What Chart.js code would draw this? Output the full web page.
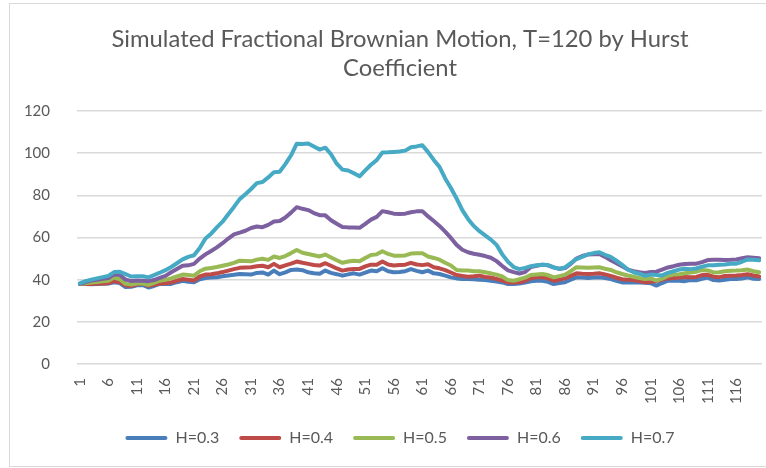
<!DOCTYPE html>
<html>
<head>
<meta charset="utf-8">
<script src="https://cdn.jsdelivr.net/npm/chart.js@4/dist/chart.umd.min.js"></script>
<style>
  html, body { margin: 0; padding: 0; background: #fff; }
  #wrap { position: relative; width: 766px; height: 468px; overflow: hidden; }
  #frame { position: absolute; left: 9px; top: 3px; width: 800px; height: 462px; border: 1px solid #d9d9d9; }
  canvas { position: absolute; left: 0; top: 0; }
</style>
</head>
<body>
<div id="wrap">
  <div id="frame"></div>
  <!-- canvas runs past the right edge, like the cropped Excel chart -->
  <canvas id="fbm" width="800" height="468"></canvas>
</div>
<script>
// time steps 1..120
const periods = Array.from({ length: 120 }, (_, i) => i + 1);

const seriesNames = ['H=0.3', 'H=0.4', 'H=0.5', 'H=0.6', 'H=0.7'];
const seriesColors = ['#4a7ebb', '#be4b48', '#98b954', '#7d60a0', '#46aac5'];
const yTicks = [0, 20, 40, 60, 80, 100, 120];

const h03 = [
  38.0, 37.9, 37.8, 37.9, 38.1, 38.2, 38.8, 38.4, 36.5, 36.6,
  37.3, 37.5, 36.3, 37.0, 38.0, 38.0, 38.0, 38.8, 39.5, 39.0,
  38.8, 40.2, 40.8, 41.0, 41.1, 41.6, 42.0, 42.3, 42.7, 42.6,
  42.4, 43.2, 43.4, 42.4, 44.3, 42.6, 43.5, 44.6, 44.8, 44.5,
  43.5, 43.0, 42.8, 44.3, 43.2, 42.6, 41.9, 42.5, 43.0, 42.4,
  43.3, 44.3, 44.0, 45.4, 44.0, 43.5, 43.6, 44.0, 45.0, 44.2,
  43.5, 44.3, 43.0, 42.7, 41.9, 41.1, 40.6, 40.3, 40.3, 40.2,
  40.0, 39.8, 39.5, 39.1, 38.7, 37.9, 38.0, 38.2, 38.6, 39.2,
  39.5, 39.5, 39.0, 37.9, 38.4, 38.8, 40.0, 41.1, 41.0, 40.8,
  41.0, 41.1, 40.8, 40.3, 39.5, 38.7, 38.7, 38.7, 38.6, 38.5,
  38.3, 37.2, 38.4, 39.5, 39.5, 39.5, 39.3, 39.8, 39.7, 40.4,
  41.0, 39.8, 39.6, 40.0, 40.3, 40.3, 40.5, 41.1, 40.4, 40.3
];

const h04 = [
  38.0, 38.0, 38.0, 38.1, 38.2, 38.3, 39.4, 38.8, 37.3, 37.0,
  37.8, 38.2, 37.1, 37.6, 38.2, 38.3, 38.7, 39.5, 40.3, 40.0,
  39.6, 41.5, 42.4, 42.6, 43.0, 43.6, 44.3, 45.0, 45.6, 45.8,
  45.9, 46.4, 46.6, 45.9, 47.5, 45.9, 46.8, 47.6, 48.6, 48.0,
  47.5, 47.0, 46.7, 47.8, 46.6, 45.3, 44.3, 44.8, 45.1, 45.1,
  46.3, 47.1, 47.1, 48.6, 47.2, 46.7, 46.9, 47.1, 48.0, 47.2,
  46.9, 47.3, 45.9, 45.4, 44.5, 43.4, 42.2, 41.8, 41.4, 41.6,
  41.9, 41.3, 41.0, 40.3, 39.6, 38.7, 38.6, 38.8, 39.5, 40.7,
  41.1, 41.1, 40.6, 39.5, 40.0, 40.6, 41.8, 43.0, 42.8, 42.7,
  42.8, 43.0, 42.5, 41.8, 40.9, 40.2, 40.0, 39.8, 39.4, 38.8,
  39.0, 39.4, 40.0, 40.6, 40.8, 41.0, 41.3, 41.2, 41.3, 42.2,
  42.3, 41.4, 41.2, 41.7, 41.9, 42.0, 42.2, 42.6, 42.0, 41.5
];

const h05 = [
  38.0, 38.3, 38.6, 38.9, 39.2, 39.5, 41.0, 40.2, 38.0, 37.7,
  38.2, 38.2, 37.5, 38.5, 39.5, 39.9, 40.6, 41.5, 42.4, 42.2,
  41.9, 44.0, 45.2, 45.5, 46.0, 46.6, 47.2, 48.0, 49.0, 48.9,
  48.7, 49.5, 49.9, 49.4, 51.0, 50.3, 51.2, 52.6, 54.1, 52.8,
  52.2, 51.6, 51.0, 51.9, 50.5, 49.2, 48.0, 48.6, 49.0, 48.7,
  50.3, 51.7, 52.0, 53.5, 52.2, 51.4, 51.4, 51.5, 52.4, 52.5,
  52.5, 51.0, 50.3, 49.5, 48.0, 46.7, 44.6, 44.3, 44.3, 44.0,
  44.0, 43.5, 43.0, 42.4, 41.5, 39.8, 39.5, 40.2, 41.0, 42.2,
  42.5, 42.7, 42.2, 41.1, 41.7, 42.3, 44.0, 45.9, 45.8, 45.6,
  45.8, 45.9, 45.2, 44.6, 43.5, 42.7, 42.0, 41.4, 40.8, 40.3,
  40.6, 39.6, 40.5, 41.8, 42.4, 42.6, 43.0, 43.4, 43.8, 44.6,
  44.4, 43.4, 43.5, 44.0, 44.2, 44.3, 44.5, 44.8, 44.0, 43.5
];

const h06 = [
  38.0, 38.9, 39.6, 40.0, 40.4, 40.8, 42.5, 42.2, 40.0, 39.4,
  39.6, 39.5, 39.3, 39.8, 40.8, 41.8, 43.5, 45.1, 46.6, 46.8,
  47.5, 50.0, 52.0, 53.6, 55.3, 57.3, 59.5, 61.5, 62.3, 63.2,
  64.5, 65.2, 64.9, 66.0, 67.6, 67.8, 69.5, 71.8, 74.4, 73.6,
  73.0, 71.6, 70.6, 70.5, 68.2, 66.5, 65.0, 64.8, 64.7, 64.6,
  66.5, 68.5, 69.8, 72.5, 72.0, 71.3, 71.2, 71.3, 72.0, 72.4,
  72.5, 70.0, 67.8, 65.5, 62.8, 59.8, 56.5, 54.2, 53.0, 52.3,
  51.8, 51.2, 50.4, 48.8, 46.5, 44.4, 43.6, 42.9, 43.6, 46.0,
  46.6, 47.1, 46.8, 45.8, 45.1, 45.5, 47.5, 50.0, 51.2, 51.9,
  52.0, 52.2, 50.8, 49.2, 47.8, 46.4, 44.8, 44.0, 43.5, 43.2,
  43.6, 43.8, 44.8, 45.8, 46.4, 47.1, 47.4, 47.5, 47.6, 48.3,
  49.3, 49.4, 49.4, 49.3, 49.4, 49.6, 50.2, 50.6, 50.4, 50.2
];

const h07 = [
  38.2, 39.3, 40.0, 40.6, 41.2, 41.8, 43.6, 43.7, 42.6, 41.5,
  41.6, 41.6, 41.1, 42.2, 43.3, 44.5, 46.0, 47.8, 49.6, 50.8,
  51.6, 55.0, 59.5, 61.8, 64.8, 67.5, 71.0, 74.5, 78.2, 80.5,
  83.0, 85.8, 86.3, 88.5, 91.0, 91.2, 94.8, 99.0, 104.5, 104.3,
  104.6, 103.2, 101.7, 102.6, 99.5, 95.0, 92.2, 91.8, 90.5, 89.0,
  91.8, 94.5, 96.7, 100.3, 100.4, 100.6, 100.8, 101.2, 102.8, 103.2,
  103.8, 100.5, 96.8, 93.5, 88.0, 83.5, 78.5, 73.0, 68.8, 65.5,
  63.0, 61.0, 59.0, 56.5, 52.0, 48.5, 46.0, 45.0, 45.6, 46.4,
  46.8, 47.1, 46.9, 45.8, 45.2, 45.8, 47.8, 49.8, 50.8, 52.0,
  52.6, 53.0, 51.8, 50.8, 49.0, 47.0, 44.8, 43.5, 42.8, 41.9,
  42.4, 42.2, 42.0, 43.2, 44.0, 44.8, 45.2, 45.0, 45.3, 46.2,
  46.8, 46.8, 47.1, 47.2, 47.5, 47.6, 48.5, 49.6, 49.4, 49.2
];

const seriesValues = [h03, h04, h05, h06, h07];

const FONT = 'Lato, "Open Sans", sans-serif';
const TEXT = '#595959';

const datasets = seriesNames.map((name, i) => ({
  label: name,
  data: seriesValues[i],
  borderColor: seriesColors[i],
  backgroundColor: seriesColors[i],
  order: seriesNames.length - 1 - i   // later series drawn on top, as in Excel
}));

new Chart(document.getElementById('fbm'), {
  type: 'line',
  data: { labels: periods, datasets },
  options: {
    responsive: false,
    animation: false,
    layout: { padding: { left: 20, right: 20, top: 0, bottom: 12 } },
    elements: {
      point: { radius: 0 },
      line: { borderWidth: 4, tension: 0, borderJoinStyle: 'round', borderCapStyle: 'round' }
    },
    plugins: {
      title: {
        display: true,
        text: ['Simulated Fractional Brownian Motion, T=120 by Hurst', 'Coefficient'],
        color: TEXT,
        font: { family: FONT, size: 23.8, weight: 'normal', lineHeight: 29 / 23.8 },
        padding: { top: 25, bottom: 28 }
      },
      legend: {
        position: 'bottom',
        maxHeight: 47,
        labels: {
          color: TEXT,
          font: { family: FONT, size: 16 },
          boxWidth: 42,
          boxHeight: 4,
          padding: 20,
          generateLabels: (chart) =>
            Chart.defaults.plugins.legend.labels.generateLabels(chart)
              .map(l => ({ ...l, lineWidth: 0, borderRadius: 2 })),
          sort: (a, b) => a.datasetIndex - b.datasetIndex
        }
      },
      tooltip: { enabled: false }
    },
    scales: {
      x: {
        offset: true,
        grid: { display: false, drawTicks: false },
        border: { display: false },
        ticks: {
          autoSkip: false,
          minRotation: 90,
          maxRotation: 90,
          padding: 14,
          color: TEXT,
          font: { family: FONT, size: 15 },
          callback: function (v, i) { return i % 5 === 0 ? this.getLabelForValue(v) : null; }
        },
        afterFit: (s) => { s.height = 46; }
      },
      y: {
        min: yTicks[0],
        max: yTicks[yTicks.length - 1],
        ticks: { stepSize: yTicks[1] - yTicks[0], padding: 27, color: TEXT, font: { family: FONT, size: 15 } },
        grid: { color: '#d9d9d9', lineWidth: 1.5, drawTicks: false },
        border: { display: false },
        afterFit: (s) => { s.width = 57; }
      },
      // empty strip on the right so the plot ends where the reference does
      yPad: {
        position: 'right',
        grid: { display: false },
        border: { display: false },
        ticks: { display: false },
        afterFit: (s) => { s.width = 18; }
      }
    }
  }
});
</script>
</body>
</html>
